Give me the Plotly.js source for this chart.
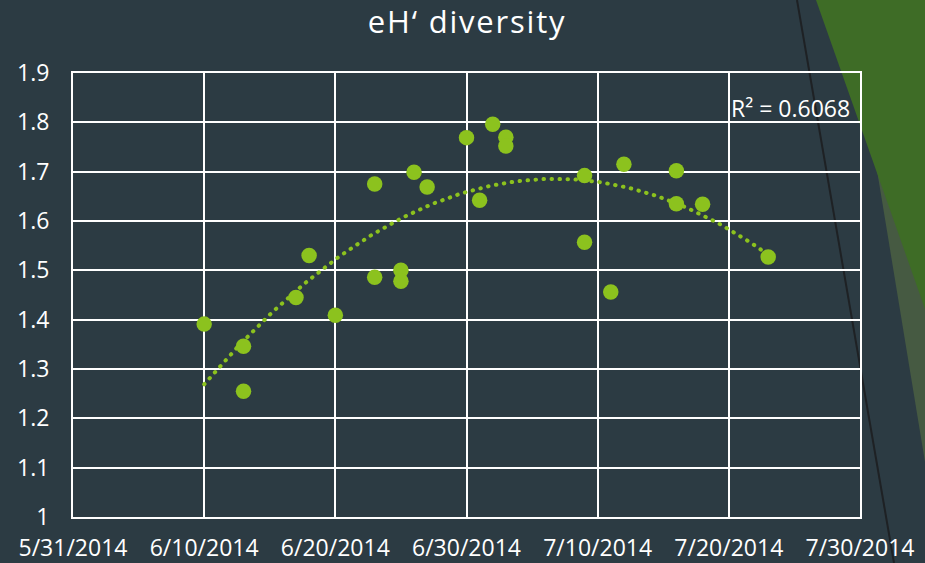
<!DOCTYPE html>
<html>
<head>
<meta charset="utf-8">
<script src="https://cdn.plot.ly/plotly-3.0.1.min.js"></script>
<style>
html,body{margin:0;padding:0;background:#2C3B43;}
#chart{width:925px;height:563px;}
#chart .gtitle{letter-spacing:1.8px;}
#chart .js-line{stroke-linecap:round;}
</style>
</head>
<body>
<div id="chart"></div>
<script>
// ---- data ----
const sampleDates = ['2014-06-10','2014-06-13','2014-06-13','2014-06-17','2014-06-18','2014-06-20',
  '2014-06-23','2014-06-23','2014-06-25','2014-06-25','2014-06-26','2014-06-27','2014-06-30',
  '2014-07-01','2014-07-02','2014-07-03','2014-07-03','2014-07-09','2014-07-09','2014-07-11',
  '2014-07-12','2014-07-16','2014-07-16','2014-07-18','2014-07-23'];
const diversity = [1.391,1.346,1.255,1.445,1.530,1.409,
  1.675,1.486,1.500,1.478,1.699,1.669,1.769,
  1.642,1.796,1.770,1.752,1.692,1.557,1.456,
  1.715,1.702,1.635,1.634,1.527];
const xTickVals = ['2014-05-31','2014-06-10','2014-06-20','2014-06-30','2014-07-10','2014-07-20','2014-07-30'];
const xTickText = ['5/31/2014','6/10/2014','6/20/2014','6/30/2014','7/10/2014','7/20/2014','7/30/2014'];
const yTickVals = [1,1.1,1.2,1.3,1.4,1.5,1.6,1.7,1.8,1.9];
const yTickText = ['1','1.1','1.2','1.3','1.4','1.5','1.6','1.7','1.8','1.9'];
const chartTitle = 'eH‘ diversity';
const r2Label = 'R² = 0.6068';

// ---- polynomial (order 2) trendline, least squares ----
const DAY = 86400000;
const t0 = Date.parse('2014-05-31T00:00:00Z');
const xs = sampleDates.map(d => (Date.parse(d + 'T00:00:00Z') - t0) / DAY);
function quadFit(x, y) {
  let S = [0,0,0,0,0], T = [0,0,0];
  for (let i = 0; i < x.length; i++) {
    let p = 1;
    for (let k = 0; k < 5; k++) { S[k] += p; p *= x[i]; }
    T[0] += y[i]; T[1] += y[i]*x[i]; T[2] += y[i]*x[i]*x[i];
  }
  const A = [[S[0],S[1],S[2],T[0]],[S[1],S[2],S[3],T[1]],[S[2],S[3],S[4],T[2]]];
  for (let c = 0; c < 3; c++) {
    for (let r = c+1; r < 3; r++) {
      const f = A[r][c]/A[c][c];
      for (let k = c; k < 4; k++) A[r][k] -= f*A[c][k];
    }
  }
  const b = [0,0,0];
  for (let r = 2; r >= 0; r--) {
    let s = A[r][3];
    for (let k = r+1; k < 3; k++) s -= A[r][k]*b[k];
    b[r] = s/A[r][r];
  }
  return b;
}
const coef = quadFit(xs, diversity);
const xmin = Math.min(...xs), xmax = Math.max(...xs);
const trendX = [], trendY = [];
for (let i = 0; i <= 120; i++) {
  const d = xmin + (xmax - xmin) * i / 120;
  trendX.push(new Date(t0 + d*DAY).toISOString().slice(0,19));
  trendY.push(coef[0] + coef[1]*d + coef[2]*d*d);
}

const GREEN = '#8CC21E';
const M = {l:73, r:65, t:73, b:46};
const W = 925, H = 563;
const pw = W - M.l - M.r, ph = H - M.t - M.b;
const px = x => (x - M.l) / pw;
const py = y => (H - M.b - y) / ph;
function poly(pts) {
  return 'M' + pts.map(p => px(p[0]) + ',' + py(p[1])).join('L') + 'Z';
}

const traces = [
  {x: trendX, y: trendY, type: 'scatter', mode: 'lines',
   line: {color: GREEN, width: 4, dash: '0.5px,7.5px'}, hoverinfo: 'skip', showlegend: false},
  {x: sampleDates, y: diversity, type: 'scatter', mode: 'markers',
   marker: {color: GREEN, size: 15.5}, showlegend: false}
];

const layout = {
  width: W, height: H,
  margin: M,
  paper_bgcolor: '#2C3B43',
  plot_bgcolor: 'rgba(0,0,0,0)',
  font: {family: 'Open Sans, sans-serif', color: '#FFFFFF', size: 23},
  title: {text: chartTitle, font: {size: 31, color: '#FFFFFF', family: 'Open Sans, sans-serif'},
          x: 0.505, xanchor: 'center', y: 0.96, yanchor: 'middle'},
  showlegend: false,
  xaxis: {
    type: 'date', range: ['2014-05-31', '2014-07-30'],
    tickmode: 'array', tickvals: xTickVals, ticktext: xTickText,
    showgrid: true, gridcolor: '#FFFFFF', gridwidth: 2,
    showline: true, linecolor: '#FFFFFF', linewidth: 2, mirror: true,
    zeroline: false, ticks: '', ticklabelstandoff: 9,
    tickfont: {size: 23, color: '#FFFFFF'}
  },
  yaxis: {
    range: [1, 1.9], tickmode: 'array', tickvals: yTickVals, ticktext: yTickText,
    showgrid: true, gridcolor: '#FFFFFF', gridwidth: 2,
    showline: true, linecolor: '#FFFFFF', linewidth: 2, mirror: true,
    zeroline: false, ticks: '', ticklabelstandoff: 17,
    tickfont: {size: 23, color: '#FFFFFF'}
  },
  shapes: [
    {type: 'path', xref: 'paper', yref: 'paper', layer: 'below', line: {width: 0},
     fillcolor: '#465A42', path: poly([[849,0],[925,0],[925,462]])},
    {type: 'path', xref: 'paper', yref: 'paper', layer: 'below', line: {width: 0},
     fillcolor: '#3E6C26', path: poly([[816,0],[925,0],[925,309]])},
    {type: 'line', xref: 'paper', yref: 'paper', layer: 'below',
     x0: px(797), y0: py(0), x1: px(894), y1: py(563), line: {color: '#1E2124', width: 2}}
  ],
  annotations: [
    {text: r2Label, xref: 'paper', yref: 'paper', x: px(852), y: py(108),
     xanchor: 'right', yanchor: 'middle', showarrow: false,
     font: {size: 23, color: '#FFFFFF'}}
  ]
};

Plotly.newPlot('chart', traces, layout, {displayModeBar: false, staticPlot: true});
</script>
</body>
</html>
